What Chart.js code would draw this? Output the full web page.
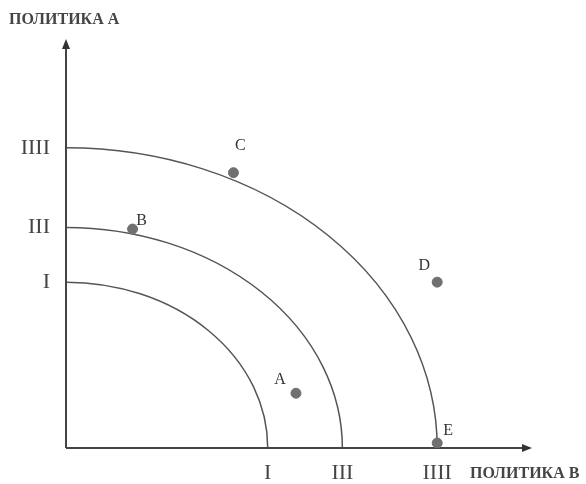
<!DOCTYPE html>
<html>
<head>
<meta charset="utf-8">
<script src="https://cdn.jsdelivr.net/npm/chart.js@4.4.1/dist/chart.umd.min.js"></script>
<style>
  html, body { margin: 0; padding: 0; background: #fff; }
  #wrap { width: 586px; height: 484px; position: relative; }
</style>
</head>
<body>
<div id="wrap"><canvas id="ppf"></canvas></div>
<script>
// levels of the three curves (data units), separate for each axis
const levelsX = [1, 1.37, 1.84];
const levelsY = [1, 1.33, 1.81];
const levelLabels = ["I", "III", "IIII"];

// points on the chart
const pointNames = ["A", "B", "C", "D", "E"];
const pointX = [1.14, 0.33, 0.83, 1.84, 1.84];
const pointY = [0.33, 1.32, 1.66, 1.0, 0.03];

const axisTitleY = "ПОЛИТИКА А";
const axisTitleX = "ПОЛИТИКА В";

const serif = '"Liberation Serif", "DejaVu Serif", serif';

// text offsets for point letters (pixels)
const nameOffsets = {
    A: [-16, -13], B: [9, -8], C: [7, -27], D: [-13, -16], E: [11, -12]
};

const curvesPlugin = {
    id: "curves",
    beforeDatasetsDraw(chart) {
        const { ctx, scales: { x, y } } = chart;
        const cx = x.getPixelForValue(0);
        const cy = y.getPixelForValue(0);
        ctx.save();
        ctx.strokeStyle = "#555";
        ctx.lineWidth = 1.5;
        levelsX.forEach((lx, i) => {
            const rx = x.getPixelForValue(lx) - cx;
            const ry = cy - y.getPixelForValue(levelsY[i]);
            ctx.beginPath();
            ctx.ellipse(cx, cy, rx, ry, 0, -Math.PI / 2, 0);
            ctx.stroke();
        });

        // axes with arrows
        const a = chart.chartArea;
        ctx.strokeStyle = "#444";
        ctx.fillStyle = "#333";
        ctx.lineWidth = 2;
        ctx.beginPath();
        ctx.moveTo(cx, cy);
        ctx.lineTo(cx, a.top + 4);
        ctx.moveTo(cx, cy);
        ctx.lineTo(a.right - 4, cy);
        ctx.stroke();
        ctx.beginPath();
        ctx.moveTo(cx, a.top - 1);
        ctx.lineTo(cx - 4, a.top + 9);
        ctx.lineTo(cx + 4, a.top + 9);
        ctx.closePath();
        ctx.fill();
        ctx.beginPath();
        ctx.moveTo(a.right + 2, cy);
        ctx.lineTo(a.right - 8, cy - 4);
        ctx.lineTo(a.right - 8, cy + 4);
        ctx.closePath();
        ctx.fill();

        // axis titles
        ctx.font = "bold 16px " + serif;
        ctx.fillStyle = "#444";
        ctx.textBaseline = "middle";
        ctx.textAlign = "left";
        ctx.fillText(axisTitleY, 9, 20);
        ctx.fillText(axisTitleX, 470, 474);
        ctx.restore();
    },
    afterDatasetsDraw(chart) {
        const { ctx } = chart;
        const meta = chart.getDatasetMeta(0);
        ctx.save();
        ctx.font = "16px " + serif;
        ctx.fillStyle = "#333";
        ctx.textAlign = "center";
        ctx.textBaseline = "middle";
        meta.data.forEach((el, i) => {
            const name = pointNames[i];
            const off = nameOffsets[name];
            ctx.fillText(name, el.x + off[0], el.y + off[1]);
        });
        ctx.restore();
    }
};

new Chart(document.getElementById("ppf"), {
    type: "scatter",
    data: {
        datasets: [{
            label: "points",
            data: pointX.map((v, i) => ({ x: v, y: pointY[i] })),
            backgroundColor: "#707070",
            borderColor: "#707070",
            pointRadius: 5,
            pointHoverRadius: 5
        }]
    },
    options: {
        responsive: true,
        maintainAspectRatio: false,
        animation: false,
        layout: { padding: { left: 0, right: 56, top: 40, bottom: 0 } },
        plugins: {
            legend: { display: false },
            tooltip: { enabled: false }
        },
        scales: {
            x: {
                type: "linear",
                min: 0,
                max: 2.3,
                grid: { display: false, drawTicks: false },
                border: { display: false },
                afterBuildTicks: s => { s.ticks = levelsX.map(v => ({ value: v })); },
                afterFit: s => { s.height = 36; },
                ticks: {
                    autoSkip: false,
                    maxRotation: 0,
                    padding: 12,
                    color: "#444",
                    font: { family: serif, size: 22 },
                    callback: (v, i) => levelLabels[i]
                }
            },
            y: {
                type: "linear",
                min: 0,
                max: 2.46,
                grid: { display: false, drawTicks: false },
                border: { display: false },
                afterBuildTicks: s => { s.ticks = levelsY.map(v => ({ value: v })); },
                afterFit: s => { s.width = 66; },
                ticks: {
                    autoSkip: false,
                    padding: 16,
                    color: "#444",
                    font: { family: serif, size: 22 },
                    callback: (v, i) => levelLabels[i]
                }
            }
        }
    },
    plugins: [curvesPlugin]
});
</script>
</body>
</html>
